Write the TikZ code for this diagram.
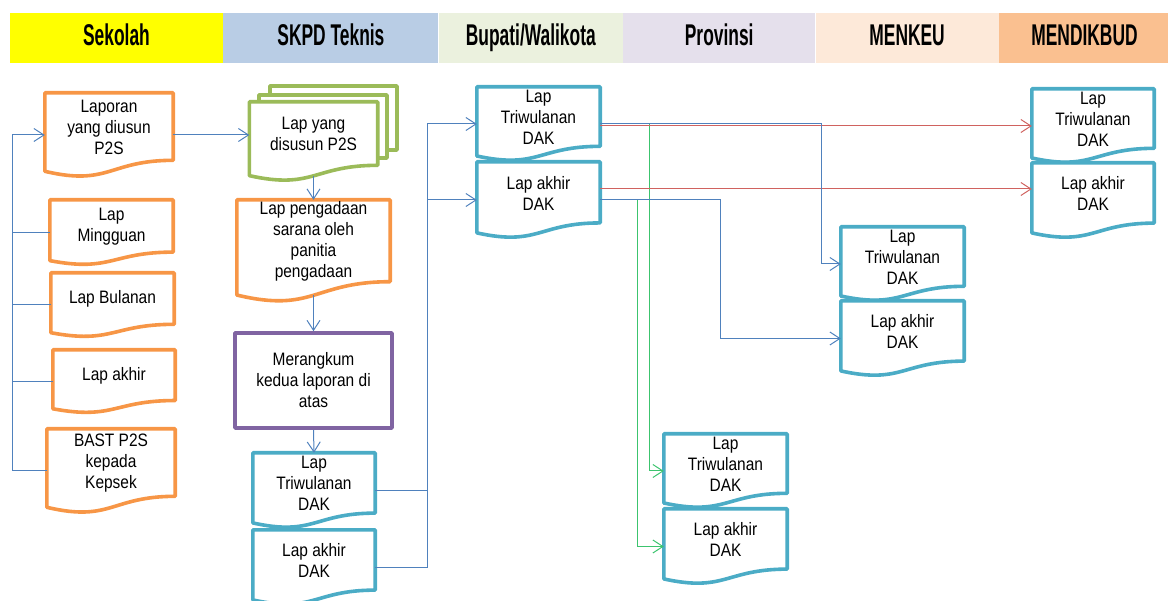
\documentclass[tikz,border=0pt]{standalone}
\usepackage{fontspec}
\setmainfont{Liberation Sans}
\newfontfamily\isifont[FakeStretch=0.86]{Liberation Sans}
\newfontfamily\judulfont[FakeStretch=0.58]{Liberation Sans}
\usetikzlibrary{calc,positioning,arrows.meta}

\definecolor{oranye}{HTML}{F79646}
\definecolor{hijau}{HTML}{9BBB59}
\definecolor{ungu}{HTML}{8064A2}
\definecolor{tosca}{HTML}{4BACC6}
\definecolor{garisbiru}{HTML}{4F81BD}
\definecolor{garismerah}{HTML}{D0625F}
\definecolor{garishijau}{HTML}{3CC46E}
\definecolor{kolomA}{HTML}{FFFF00}
\definecolor{kolomB}{HTML}{B9CDE5}
\definecolor{kolomC}{HTML}{EBF1DE}
\definecolor{kolomD}{HTML}{E5E0EC}
\definecolor{kolomE}{HTML}{FDE9D9}
\definecolor{kolomF}{HTML}{FAC090}

% dokumen: nama, posisi, lebar, tinggi, warna, teks
\newcommand{\dokumen}[6]{%
  \node[kotak, minimum width=#3, minimum height=#4] (#1) at (#2) {};
  \draw[tepi, draw=#5, fill=white] (#1.north west) -- (#1.north east)
    -- ($(#1.north east)!0.80!(#1.south east)$)
    .. controls ($(#1.north)!0.80!(#1.south)$) and ($(#1.north)!1.11!(#1.south)$)
    .. ($(#1.north west)!0.93!(#1.south west)$) -- cycle;
  \node[teks] (#1t) at ($(#1.center)+(0,-0.09*#4)$) {#6};
}

\begin{document}
\begin{tikzpicture}[x=1pt, y=-1pt,
    kotak/.style={draw=none, inner sep=0pt},
    tepi/.style={line width=3.6pt, line join=round},
    teks/.style={align=center, inner sep=0pt, font=\isifont\fontsize{18}{21}\selectfont},
    judul/.style={minimum height=50, inner sep=0pt, text height=21, text depth=5,
      font=\judulfont\bfseries\fontsize{30}{32}\selectfont},
    hubung/.style={line width=1pt, draw=garisbiru},
    panah/.style={-{Straight Barb[length=10pt, width=13pt]}}]
  \useasboundingbox (0,0) rectangle (1168,601);

  % kepala kolom
  \node[judul, fill=kolomA, minimum width=213] (hSekolah) at (116.5,38) {Sekolah};
  \node[judul, fill=kolomB, minimum width=215, right=0pt of hSekolah] (hSkpd) {SKPD Teknis};
  \node[judul, fill=kolomC, minimum width=184, right=0pt of hSkpd] (hBupati) {Bupati/Walikota};
  \node[judul, fill=kolomD, minimum width=192, right=0pt of hBupati] (hProv) {Provinsi};
  \node[judul, fill=kolomE, minimum width=183, right=0pt of hProv] (hMenkeu) {MENKEU};
  \node[judul, fill=kolomF, minimum width=171, right=0pt of hMenkeu] (hMendik) {MENDIKBUD};

  % Sekolah
  \dokumen{lapP2S}{109,135}{128}{84}{oranye}{Laporan\\yang diusun\\P2S}
  \dokumen{mingguan}{111.5,232.5}{123}{65}{oranye}{Lap\\Mingguan}
  \dokumen{bulanan}{112.5,305}{123}{64}{oranye}{Lap Bulanan}
  \dokumen{akhirS}{114,381.5}{122}{63}{oranye}{Lap akhir}
  \dokumen{bast}{111,471}{128}{84}{oranye}{BAST P2S\\kepada\\Kepsek}

  % SKPD Teknis
  \draw[tepi, draw=hijau, fill=white] (270,86) rectangle (397,150);
  \draw[tepi, draw=hijau, fill=white] (259,95) rectangle (387,158);
  \dokumen{susun}{313.5,141.5}{128}{79}{hijau}{Lap yang\\disusun P2S}
  \dokumen{pengadaan}{313.5,251}{153}{102}{oranye}{Lap pengadaan\\sarana oleh\\panitia\\pengadaan}
  \node[kotak, tepi, draw=ungu, minimum width=157, minimum height=95, teks] (rangkum) at (313.5,380.5) {Merangkum\\kedua laporan di\\atas};
  \dokumen{triSkpd}{314,490.5}{122}{75}{tosca}{Lap\\Triwulanan\\DAK}
  \dokumen{akhirSkpd}{314,567.5}{122}{75}{tosca}{Lap akhir\\DAK}

  % Bupati/Walikota
  \dokumen{triBup}{538.5,124}{123}{74}{tosca}{Lap\\Triwulanan\\DAK}
  \dokumen{akhirBup}{538.5,200}{123}{76}{tosca}{Lap akhir\\DAK}

  % Provinsi
  \dokumen{triProv}{725.5,471}{123}{74}{tosca}{Lap\\Triwulanan\\DAK}
  \dokumen{akhirProv}{725.5,546.5}{123}{75}{tosca}{Lap akhir\\DAK}

  % MENKEU
  \dokumen{triMk}{902.5,264}{123}{74}{tosca}{Lap\\Triwulanan\\DAK}
  \dokumen{akhirMk}{902.5,338.5}{123}{75}{tosca}{Lap akhir\\DAK}

  % MENDIKBUD
  \dokumen{triMd}{1093,126}{122}{74}{tosca}{Lap\\Triwulanan\\DAK}
  \dokumen{akhirMd}{1093,200.5}{122}{75}{tosca}{Lap akhir\\DAK}

  % jalur garis
  \coordinate (busA) at (12,0);
  \coordinate (busB) at (427,0);
  \coordinate (hijA) at (637,0);
  \coordinate (hijB) at (649,0);
  \coordinate (biruA) at (720,0);
  \coordinate (biruB) at (821,0);

  \draw[hubung, panah] (bast.west) -- (bast.west -| busA) |- (lapP2S.west);
  \draw[hubung] (mingguan.west) -- (mingguan.west -| busA);
  \draw[hubung] (bulanan.west) -- (bulanan.west -| busA);
  \draw[hubung] (akhirS.west) -- (akhirS.west -| busA);
  \draw[hubung, panah] (lapP2S.east) -- (lapP2S.east -| susun.west);

  \draw[hubung, panah] ($(susun.north)!0.93!(susun.south)$) -- (pengadaan.north);
  \draw[hubung, panah] ($(pengadaan.north)!0.93!(pengadaan.south)$) -- (rangkum.north);
  \draw[hubung, panah] (rangkum.south) -- (triSkpd.north);

  \draw[hubung, panah] (triSkpd.east) -- (triSkpd.east -| busB) |- (triBup.west);
  \draw[hubung, panah] (akhirSkpd.east) -- (akhirSkpd.east -| busB) |- (akhirBup.west);

  \draw[hubung, draw=garishijau, panah] (triBup.east) -- (triBup.east -| hijB) |- (triProv.west);
  \draw[hubung, draw=garishijau, panah] (akhirBup.east) -- (akhirBup.east -| hijA) |- (akhirProv.west);

  \draw[hubung, draw=garismerah, panah] ($(triBup.east)+(0,2)$) -- ($(triBup.east -| triMd.west)+(0,2)$);
  \draw[hubung, draw=garismerah, panah] ($(akhirBup.east)+(0,-11)$) -- ($(akhirBup.east -| akhirMd.west)+(0,-11)$);

  \draw[hubung, panah] (triBup.east) -- (triBup.east -| biruB) |- (triMk.west);
  \draw[hubung, panah] (akhirBup.east) -- (akhirBup.east -| biruA) |- (akhirMk.west);
\end{tikzpicture}
\end{document}
